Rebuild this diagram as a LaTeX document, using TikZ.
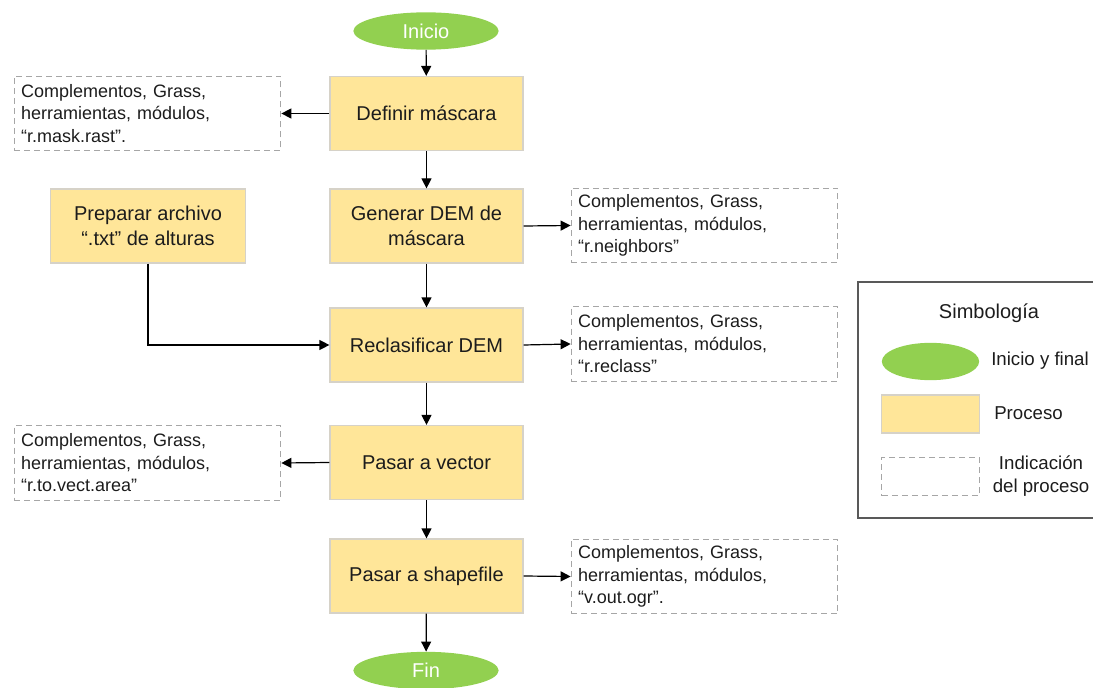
\documentclass[tikz,border=0pt]{standalone}
\usepackage{fontspec}
\setmainfont{Liberation Sans}
\usetikzlibrary{arrows.meta,shapes.geometric}

\definecolor{procfill}{HTML}{FFE699}
\definecolor{procline}{HTML}{D6D2C8}
\definecolor{startfill}{HTML}{92D050}
\definecolor{noteline}{HTML}{A6A6A6}
\definecolor{legline}{HTML}{595959}
\definecolor{ink}{HTML}{1C1C1C}

\tikzset{
  procbox/.style={draw=procline, line width=0.9pt, fill=procfill, text=ink,
    minimum width=144.75pt, minimum height=55.5pt, inner sep=0pt, align=center,
    font=\fontsize{15}{18.5}\selectfont},
  terminal/.style={ellipse, fill=startfill, draw=none, text=white,
    minimum width=109pt, minimum height=28pt, inner sep=0pt,
    font=\fontsize{15}{18}\selectfont},
  notebox/.style={draw=noteline, line width=0.8pt, dash pattern=on 4.5pt off 3pt,
    minimum width=200pt, minimum height=56pt, inner xsep=5.25pt, inner ysep=0pt,
    text width=189.5pt, align=left, text=ink,
    font=\fontsize{13.5}{16.9}\selectfont},
  flow/.style={draw=black, line width=0.9pt, -{Triangle[length=7.5pt,width=7.5pt]}},
  legtext/.style={text=ink, inner sep=0pt, font=\fontsize{14}{17.5}\selectfont},
}

\begin{document}
\begin{tikzpicture}[x=0.75pt, y=-0.75pt]
\useasboundingbox (0,0) rectangle (1093,688);
\clip (0,0) rectangle (1093,688);

% main flow
\node[terminal] (inicio) at (426,31) {Inicio};
\node[procbox] (definir) at (426.5,113.5) {Definir máscara};
\node[procbox] (generar) at (426.5,226) {Generar DEM de\\máscara};
\node[procbox] (reclas) at (426.5,345) {Reclasificar DEM};
\node[procbox] (vector) at (426.5,462.5) {Pasar a vector};
\node[procbox] (shape) at (426.5,576) {Pasar a shapefile};
\node[terminal] (fin) at (426,670.5) {Fin};

% side input
\node[procbox, minimum width=146pt] (preparar) at (148,226) {Preparar archivo\\“.txt” de alturas};

% tool notes
\node[notebox] (n1) at (147.5,113.5) {Complementos, Grass,\\herramientas, módulos,\\“r.mask.rast”.};
\node[notebox] (n2) at (704.5,225.5) {Complementos, Grass,\\herramientas, módulos,\\“r.neighbors”};
\node[notebox] (n3) at (704.5,344) {Complementos, Grass,\\herramientas, módulos,\\“r.reclass”};
\node[notebox] (n4) at (147.5,463) {Complementos, Grass,\\herramientas, módulos,\\“r.to.vect.area”};
\node[notebox] (n5) at (704.5,576.5) {Complementos, Grass,\\herramientas, módulos,\\“v.out.ogr”.};

% connectors
\draw[flow] (inicio) -- (definir);
\draw[flow] (definir) -- (generar);
\draw[flow] (generar) -- (reclas);
\draw[flow] (reclas) -- (vector);
\draw[flow] (vector) -- (shape);
\draw[flow] (shape) -- (fin);
\draw[flow] (preparar.south) |- (reclas.west);
\draw[flow] (definir.west) -- (n1.east);
\draw[flow] (generar.east) -- (n2.west);
\draw[flow] (reclas.east) -- (n3.west);
\draw[flow] (vector.west) -- (n4.east);
\draw[flow] (shape.east) -- (n5.west);

% legend
\node[draw=legline, line width=0.8pt, minimum width=189pt, minimum height=177pt,
      inner sep=0pt] (legend) at (984,400) {};
\node[legtext, font=\fontsize{15}{18}\selectfont] (legtitle) at (989,313) {Simbología};
\node[terminal, minimum width=73pt, minimum height=28pt] (legterm) at (930.5,361.5) {};
\node[legtext, anchor=west] (legtermtxt) at (991,361) {Inicio y final};
\node[procbox, minimum width=73pt, minimum height=28.5pt] (legproc) at (930.5,414) {};
\node[legtext, anchor=west] (legproctxt) at (994,413) {Proceso};
\node[notebox, minimum width=73pt, minimum height=29pt, text width=60pt] (legnote) at (930.5,476.5) {};
\node[legtext, align=center] (legnotetxt) at (1041,476) {Indicación\\del proceso};
\end{tikzpicture}
\end{document}
